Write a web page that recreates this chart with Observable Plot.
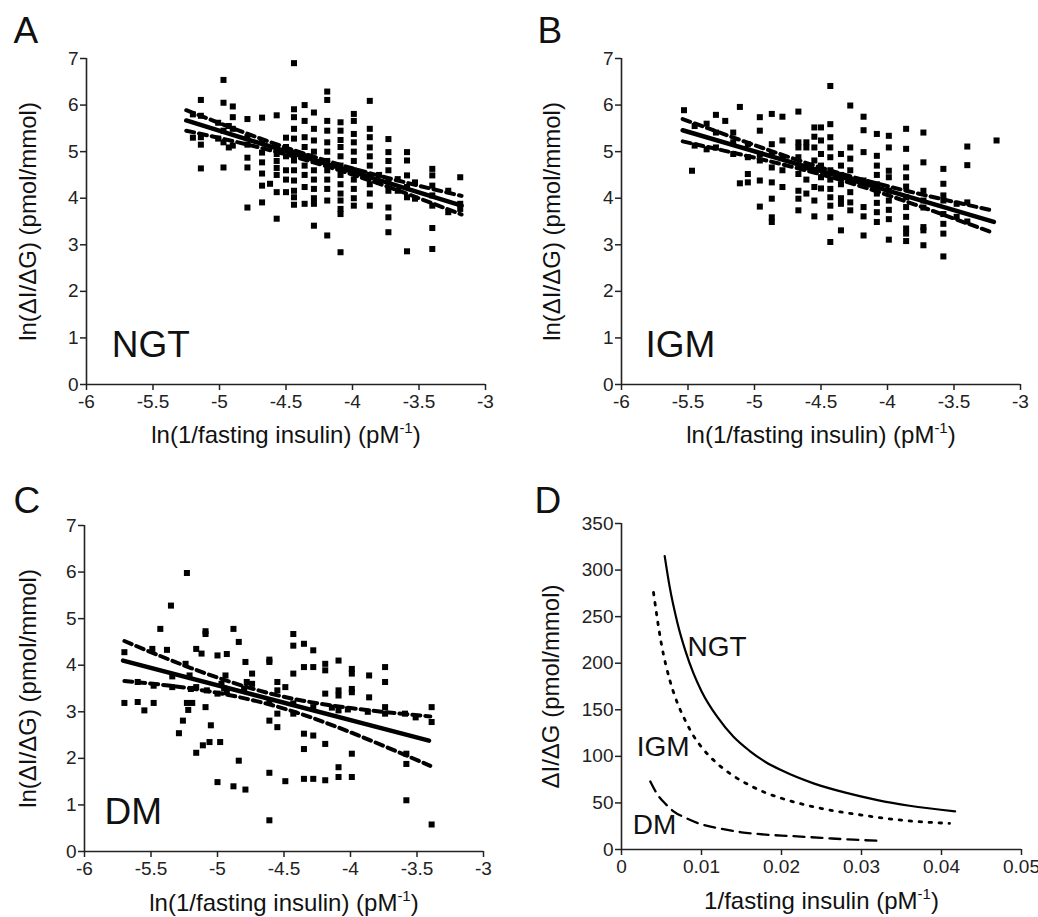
<!DOCTYPE html>
<html><head><meta charset="utf-8">
<script src="https://cdn.jsdelivr.net/npm/d3@7"></script>
<script src="https://cdn.jsdelivr.net/npm/@observablehq/plot@0.6"></script>
<style>
body{margin:0;background:#fff;}
#fig{position:relative;width:1038px;height:917px;background:#fff;}
#fig > div{position:absolute;}
</style></head><body><div id="fig"></div>
<script>
// ---------- tick labels ----------
const lnXTicks = [-6, -5.5, -5, -4.5, -4, -3.5, -3];
const lnYTicks = [0, 1, 2, 3, 4, 5, 6, 7];
const dXTicks = [0, 0.01, 0.02, 0.03, 0.04, 0.05];
const dYTicks = [0, 50, 100, 150, 200, 250, 300, 350];

// ---------- panel A (NGT): columns [x, [y...]] ----------
const ngtColumns = [
  [-5.20, [5.80, 5.30]],
  [-5.14, [6.11, 5.77, 5.31, 5.15, 4.64]],
  [-5.01, [5.62, 5.28]],
  [-4.97, [6.54, 6.05, 5.45, 5.20, 4.66]],
  [-4.93, [5.55, 5.09]],
  [-4.90, [5.97, 5.74, 5.49, 5.13]],
  [-4.79, [5.70, 5.31, 5.15, 4.87, 4.66, 3.80]],
  [-4.68, [5.73, 5.20, 4.98, 4.77, 4.53, 4.27, 3.91]],
  [-4.62, [4.31]],
  [-4.57, [5.78, 5.09, 4.95, 4.80, 4.65, 4.50, 4.13, 3.56]],
  [-4.50, [5.30, 5.10, 4.90, 4.60, 4.40, 4.13]],
  [-4.44, [6.90, 5.91, 5.74, 5.49, 5.28, 4.98, 4.81, 4.60, 4.38, 4.16, 4.02, 3.86]],
  [-4.36, [6.00, 5.66, 5.31, 5.10, 4.90, 4.70, 4.50, 4.24, 3.88]],
  [-4.29, [5.84, 5.49, 5.24, 5.00, 4.80, 4.60, 4.40, 4.20, 4.00, 3.88, 3.41]],
  [-4.19, [6.29, 6.11, 5.66, 5.45, 5.20, 5.00, 4.80, 4.60, 4.40, 4.20, 3.95, 3.20]],
  [-4.09, [5.63, 5.45, 5.25, 5.10, 4.90, 4.70, 4.50, 4.30, 4.10, 3.95, 3.77, 3.66, 2.84]],
  [-3.99, [5.81, 5.66, 5.38, 5.20, 5.00, 4.80, 4.60, 4.40, 4.20, 4.00, 3.84]],
  [-3.87, [6.09, 5.49, 5.31, 5.09, 4.90, 4.70, 4.50, 4.30, 4.10, 3.84]],
  [-3.80, [4.50, 4.35]],
  [-3.73, [5.27, 4.99, 4.80, 4.60, 4.38, 4.16, 3.80, 3.59, 3.27]],
  [-3.66, [4.41, 4.16]],
  [-3.59, [4.99, 4.81, 4.49, 4.24, 4.02, 2.86]],
  [-3.53, [4.34, 3.99]],
  [-3.40, [4.63, 4.49, 4.27, 4.06, 3.84, 3.36, 2.91]],
  [-3.28, [4.16, 3.70]],
  [-3.19, [4.45, 3.88, 3.77]]
];
const ngtFit = [[-5.25, 5.67], [-3.18, 3.84]];
const ngtUpper = [[-5.25, 5.89], [-4.7, 5.29], [-4.2, 4.81], [-3.7, 4.41], [-3.18, 4.05]];
const ngtLower = [[-5.25, 5.45], [-4.7, 5.09], [-4.2, 4.69], [-3.7, 4.21], [-3.18, 3.65]];

// ---------- panel B (IGM) ----------
const igmColumns = [
  [-5.53, [5.89]],
  [-5.47, [4.59]],
  [-5.45, [5.55, 5.13]],
  [-5.36, [5.60, 5.05]],
  [-5.29, [5.79, 5.41, 5.09]],
  [-5.22, [5.66]],
  [-5.16, [5.41, 5.20, 4.95]],
  [-5.11, [5.96, 4.32]],
  [-5.05, [5.16, 4.88, 4.52, 4.34]],
  [-4.96, [5.74, 5.45, 4.95, 4.81, 4.38, 3.82]],
  [-4.87, [5.81, 5.16, 4.95, 4.66, 4.34, 3.99, 3.59, 3.49]],
  [-4.79, [5.75, 5.24, 4.88, 4.60, 4.24]],
  [-4.67, [5.86, 5.20, 5.09, 4.88, 4.70, 4.52, 4.16, 3.99, 3.74]],
  [-4.61, [5.20, 5.09, 4.66, 4.40, 4.10]],
  [-4.55, [5.52, 5.32, 5.09, 4.81, 4.24, 3.95, 3.61]],
  [-4.50, [5.52, 5.24, 4.95, 4.70, 4.45, 4.21]],
  [-4.43, [6.41, 5.59, 5.31, 5.09, 4.88, 4.60, 4.40, 4.20, 4.02, 3.84, 3.59, 3.06]],
  [-4.35, [4.95, 4.70, 4.50, 4.30, 4.00, 3.88, 3.31]],
  [-4.28, [5.99, 5.09, 4.85, 4.60, 4.40, 4.13, 3.91, 3.74]],
  [-4.18, [5.75, 5.46, 4.99, 4.38, 3.81, 3.61, 3.20]],
  [-4.08, [5.38, 4.91, 4.70, 4.50, 4.30, 4.10, 3.90, 3.70, 3.49]],
  [-3.99, [5.34, 5.09, 4.59, 4.45, 4.16, 3.95, 3.75, 3.55, 3.11]],
  [-3.86, [5.49, 5.06, 4.66, 4.45, 4.25, 4.02, 3.81, 3.60, 3.35, 3.24, 3.08]],
  [-3.73, [5.41, 4.77, 4.16, 3.95, 3.80, 3.38, 3.31, 2.99]],
  [-3.58, [4.63, 4.31, 4.06, 3.95, 3.66, 3.45, 3.24, 2.75]],
  [-3.48, [3.88, 3.60]],
  [-3.40, [5.11, 4.71, 3.91, 3.50]],
  [-3.18, [5.24]]
];
const igmFit = [[-5.54, 5.46], [-3.20, 3.49]];
const igmUpper = [[-5.54, 5.70], [-5.0, 5.14], [-4.4, 4.57], [-3.8, 4.12], [-3.2, 3.73]];
const igmLower = [[-5.54, 5.22], [-5.0, 4.87], [-4.4, 4.43], [-3.8, 3.87], [-3.2, 3.25]];

// ---------- panel C (DM): [x, y] ----------
const dmPoints = [
  [-5.70,4.28],[-5.70,3.19],[-5.60,3.64],[-5.60,3.21],[-5.55,3.03],[-5.49,4.35],[-5.48,3.56],[-5.48,3.19],
  [-5.43,4.78],[-5.38,4.33],[-5.35,5.28],[-5.34,3.76],[-5.34,3.53],[-5.29,2.54],[-5.26,2.81],[-5.24,4.03],
  [-5.23,5.98],[-5.23,3.19],[-5.22,3.04],[-5.21,3.78],[-5.20,3.49],[-5.19,3.19],[-5.16,4.35],[-5.16,3.53],
  [-5.16,2.12],[-5.12,4.25],[-5.11,2.28],[-5.09,4.73],[-5.09,4.67],[-5.09,3.10],[-5.08,3.46],[-5.05,2.71],
  [-5.06,2.35],[-5.00,4.21],[-5.00,3.39],[-5.00,1.49],[-4.98,2.35],[-4.97,3.60],[-4.95,3.50],[-4.94,3.78],
  [-4.93,4.24],[-4.93,3.42],[-4.88,4.78],[-4.88,1.40],[-4.84,4.50],[-4.84,1.95],[-4.80,3.50],[-4.79,4.07],
  [-4.79,1.33],[-4.78,3.64],[-4.74,3.82],[-4.74,3.60],[-4.61,4.12],[-4.61,4.07],[-4.61,3.21],[-4.61,2.81],
  [-4.61,1.69],[-4.61,0.67],[-4.55,3.64],[-4.55,3.46],[-4.55,2.96],[-4.55,2.67],[-4.49,3.53],[-4.49,1.51],
  [-4.43,4.67],[-4.43,4.42],[-4.43,3.82],[-4.43,3.18],[-4.43,2.96],[-4.35,4.46],[-4.35,3.96],[-4.35,2.53],
  [-4.35,2.20],[-4.35,1.56],[-4.28,4.32],[-4.28,3.96],[-4.28,3.10],[-4.28,2.49],[-4.28,1.56],[-4.19,4.03],
  [-4.19,3.89],[-4.19,3.39],[-4.14,3.09],[-4.19,2.31],[-4.19,1.53],[-4.09,4.10],[-4.09,3.46],[-4.09,3.35],
  [-4.09,3.03],[-4.09,1.81],[-4.09,1.60],[-4.02,3.05],[-3.99,3.92],[-3.99,3.82],[-3.99,3.49],[-3.99,3.42],
  [-3.99,2.10],[-3.99,1.60],[-3.86,3.78],[-3.86,3.31],[-3.87,3.00],[-3.74,3.96],[-3.74,3.64],[-3.74,3.10],
  [-3.74,2.96],[-3.59,2.96],[-3.58,2.10],[-3.58,1.88],[-3.58,1.10],[-3.51,2.88],[-3.39,3.10],[-3.39,2.78],
  [-3.39,0.58]
];
const dmFit = [[-5.71, 4.10], [-3.41, 2.38]];
const dmUpper = [[-5.70, 4.52], [-5.2, 3.94], [-4.6, 3.39], [-4.0, 3.08], [-3.40, 2.90]];
const dmLower = [[-5.70, 3.66], [-5.2, 3.50], [-4.6, 3.15], [-4.0, 2.56], [-3.40, 1.84]];

// ---------- panel D: curves [1/fasting insulin, ΔI/ΔG] ----------
const ngtCurve = [[0.0054,315],[0.006,283],[0.007,243],[0.008,213],[0.009,189],[0.010,170],[0.012,142],[0.014,121],
  [0.016,106],[0.018,94],[0.020,85],[0.024,71],[0.028,61],[0.032,53],[0.036,47],[0.0417,41]];
const igmCurve = [[0.004,276],[0.005,220],[0.006,183],[0.007,157],[0.008,138],[0.009,122],[0.010,110],[0.012,92],
  [0.014,79],[0.016,69],[0.018,61],[0.020,55],[0.025,44],[0.030,37],[0.035,31.5],[0.041,28]];
const dmCurve = [[0.0036,73],[0.0045,59],[0.0055,49],[0.0065,41],[0.008,34],[0.010,27],[0.012,23],[0.015,18.5],
  [0.018,16],[0.021,14.5],[0.025,12.5],[0.029,10.5],[0.0325,9.2]];

// ---------- labels ----------
const lnXLabel = "ln(1/fasting insulin) (pM⁻¹)";
const lnYLabel = "ln(ΔI/ΔG) (pmol/mmol)";
const dXLabel = "1/fasting insulin (pM⁻¹)";
const dYLabel = "ΔI/ΔG (pmol/mmol)";

const FONT = '"Liberation Sans", Arial, Helvetica, sans-serif';
const INK = "#111";

function flatten(cols) { return cols.flatMap(([x, ys]) => ys.map(y => [x, y])); }

function basePlot(cfg, marks) {
  const {box, m, xDomain, yDomain, xTicks, yTicks, xLabel, yLabel, letter, letterD, xLabelDy, yLabelDx} = cfg;
  return Plot.plot({
    width: box.w, height: box.h,
    marginLeft: m[0], marginRight: m[1], marginTop: m[2], marginBottom: m[3],
    x: {domain: xDomain}, y: {domain: yDomain},
    style: {fontFamily: FONT, fontSize: "19px", color: INK, background: "white", overflow: "visible"},
    marks: [
      Plot.ruleX([xDomain[0]], {stroke: "#222", strokeWidth: 1.6}),
      Plot.ruleY([yDomain[0]], {stroke: "#222", strokeWidth: 1.6}),
      Plot.axisX({ticks: xTicks, tickSize: 6, tickPadding: 4, tickFormat: d => String(d), label: null, strokeWidth: 1.5, stroke: "#222", fill: "#222"}),
      Plot.axisY({ticks: yTicks, tickSize: 6, tickPadding: 2, tickFormat: d => String(d), label: null, strokeWidth: 1.5, stroke: "#222", fill: "#222"}),
      ...marks,
      Plot.text([xLabel], {text: d => d, frameAnchor: "bottom", dy: xLabelDy, textAnchor: "middle", lineAnchor: "bottom", fontSize: 24, fill: INK}),
      Plot.text([yLabel], {text: d => d, frameAnchor: "left", dx: yLabelDx, rotate: -90, textAnchor: "middle", lineAnchor: "middle", fontSize: 24, fill: INK}),
      Plot.text([letter], {text: d => d, frameAnchor: "top-left", dx: letterD[0], dy: letterD[1], textAnchor: "start", lineAnchor: "bottom", fontSize: 37, fill: INK})
    ]
  });
}

function scatterPanel(cfg, points, fit, upper, lower, group, groupPos) {
  return basePlot(cfg, [
    Plot.dot(points, {x: d => d[0], y: d => d[1], symbol: "square", r: 3.4, fill: "#000"}),
    Plot.line(upper, {x: d => d[0], y: d => d[1], curve: "natural", stroke: "#000", strokeWidth: 4, strokeDasharray: "8,5"}),
    Plot.line(lower, {x: d => d[0], y: d => d[1], curve: "natural", stroke: "#000", strokeWidth: 4, strokeDasharray: "8,5"}),
    Plot.line(fit, {x: d => d[0], y: d => d[1], stroke: "#000", strokeWidth: 4.5}),
    Plot.text([group], {text: d => d, x: groupPos[0], y: groupPos[1], textAnchor: "start", lineAnchor: "bottom", fontSize: 37, fill: INK})
  ]);
}

const plotA = scatterPanel({
  box: {w: 519, h: 460}, m: [86, 34, 58, 76], xDomain: [-6, -3], yDomain: [0, 7],
  xTicks: lnXTicks, yTicks: lnYTicks, xLabel: lnXLabel, yLabel: lnYLabel,
  letter: "A", letterD: [-73, -16], xLabelDy: 58, yLabelDx: -58
}, flatten(ngtColumns), ngtFit, ngtUpper, ngtLower, "NGT", [-5.81, 0.58]);

const plotB = scatterPanel({
  box: {w: 519, h: 460}, m: [102, 18, 58, 76], xDomain: [-6, -3], yDomain: [0, 7],
  xTicks: lnXTicks, yTicks: lnYTicks, xLabel: lnXLabel, yLabel: lnYLabel,
  letter: "B", letterD: [-84, -16], xLabelDy: 58, yLabelDx: -69
}, flatten(igmColumns), igmFit, igmUpper, igmLower, "IGM", [-5.82, 0.58]);

const plotC = scatterPanel({
  box: {w: 519, h: 457}, m: [84, 36, 65, 66], xDomain: [-6, -3], yDomain: [0, 7],
  xTicks: lnXTicks, yTicks: lnYTicks, xLabel: lnXLabel, yLabel: lnYLabel,
  letter: "C", letterD: [-71, -13], xLabelDy: 59, yLabelDx: -56
}, dmPoints, dmFit, dmUpper, dmLower, "DM", [-5.85, 0.60]);

const plotD = basePlot({
  box: {w: 519, h: 457}, m: [102, 17, 63, 68], xDomain: [0, 0.05], yDomain: [0, 350],
  xTicks: dXTicks, yTicks: dYTicks, xLabel: dXLabel, yLabel: dYLabel,
  letter: "D", letterD: [-87, -11], xLabelDy: 59, yLabelDx: -70
}, [
  Plot.line(ngtCurve, {x: d => d[0], y: d => d[1], curve: "monotone-x", stroke: "#000", strokeWidth: 2.2}),
  Plot.line(igmCurve, {x: d => d[0], y: d => d[1], curve: "monotone-x", stroke: "#000", strokeWidth: 2.8, strokeDasharray: "2.5,7.5"}),
  Plot.line(dmCurve, {x: d => d[0], y: d => d[1], curve: "monotone-x", stroke: "#000", strokeWidth: 2.3, strokeDasharray: "11,7"}),
  Plot.text(["NGT"], {text: d => d, x: 0.00825, y: 208, textAnchor: "start", lineAnchor: "bottom", fontSize: 28, fill: INK}),
  Plot.text(["IGM"], {text: d => d, x: 0.0019, y: 100, textAnchor: "start", lineAnchor: "bottom", fontSize: 28, fill: INK}),
  Plot.text(["DM"], {text: d => d, x: 0.0014, y: 17, textAnchor: "start", lineAnchor: "bottom", fontSize: 28, fill: INK})
]);

// superscript "-1" in the x-axis titles
function fixSuperscript(svg) {
  svg.querySelectorAll("text").forEach(t => {
    const s = t.textContent;
    if (!s.includes("⁻¹")) return;
    const base = s.replace("⁻¹)", "");
    const NS = "http://www.w3.org/2000/svg";
    t.textContent = "";
    const a = document.createElementNS(NS, "tspan"); a.textContent = base;
    const b = document.createElementNS(NS, "tspan"); b.textContent = "-1";
    b.setAttribute("font-size", "15"); b.setAttribute("dy", "-10");
    const c = document.createElementNS(NS, "tspan"); c.textContent = ")";
    c.setAttribute("dy", "10");
    t.append(a, b, c);
  });
}

const fig = document.getElementById("fig");
[[plotA, 0, 0], [plotB, 519, 0], [plotC, 0, 460], [plotD, 519, 460]].forEach(([p, l, t]) => {
  fixSuperscript(p);
  const div = document.createElement("div");
  div.style.left = l + "px"; div.style.top = t + "px";
  div.appendChild(p);
  fig.appendChild(div);
});
</script></body></html>
